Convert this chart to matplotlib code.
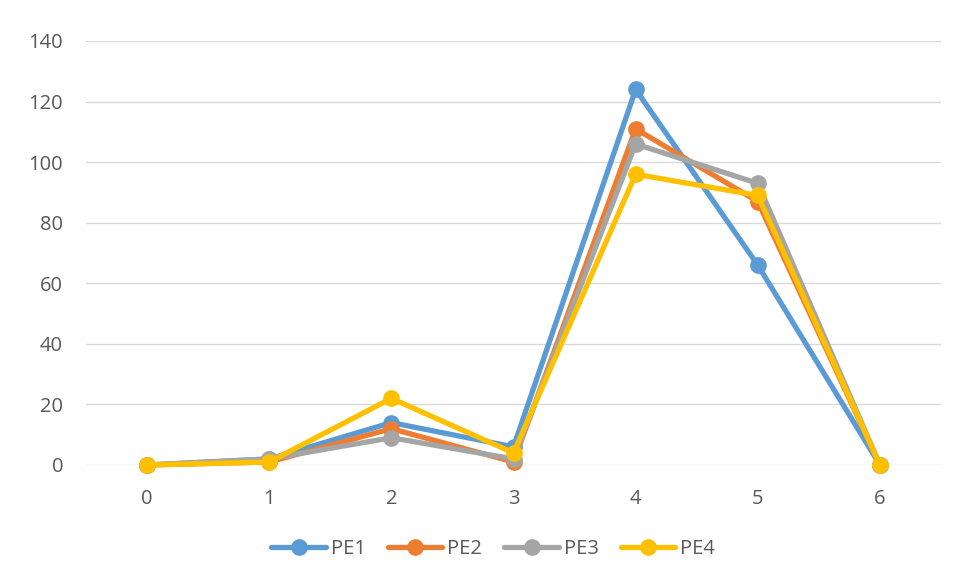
import matplotlib
matplotlib.use("Agg")
import matplotlib.pyplot as plt

categories = [0, 1, 2, 3, 4, 5, 6]
pe1 = [0, 2, 14, 6, 124, 66, 0]
pe2 = [0, 1, 12, 1, 111, 87, 0]
pe3 = [0, 2, 9, 2, 106, 93, 0]
pe4 = [0, 1, 22, 4, 96, 89, 0]
series_names = ["PE1", "PE2", "PE3", "PE4"]
colors = ["#5B9BD5", "#ED7D31", "#A5A5A5", "#FFC000"]
yticks = [0, 20, 40, 60, 80, 100, 120, 140]

plt.rcParams['font.family'] = ['Open Sans', 'DejaVu Sans']

fig = plt.figure(figsize=(9.58, 5.80), dpi=100)
ax = fig.add_axes([86/958, 1-465/580, (941-86)/958, (465-41)/580])

for name, vals, c in zip(series_names, [pe1, pe2, pe3, pe4], colors):
    ax.plot(categories, vals, color=c, lw=3.8, marker='o', markersize=11,
            label=name, solid_capstyle='round', solid_joinstyle='round',
            clip_on=False)

ax.set_xlim(-0.5, 6.5)
ax.set_ylim(0, 140)
ax.set_yticks(yticks)
ax.set_xticks(categories)
ax.grid(axis='y', color='#D9D9D9', lw=1)
ax.set_axisbelow(True)
for s in ax.spines.values():
    s.set_visible(False)
ax.tick_params(length=0, labelsize=14.5, colors='#595959')
ax.tick_params(axis='y', pad=16.5)
ax.tick_params(axis='x', pad=17)

leg = fig.legend(loc='center', bbox_to_anchor=(0.515, 1-549/580), ncol=4, frameon=False,
                 fontsize=14.5, handlelength=2.7, columnspacing=1.1, handletextpad=0.25)
for t in leg.get_texts():
    t.set_color('#595959')

fig.savefig("out.png", dpi=100)
